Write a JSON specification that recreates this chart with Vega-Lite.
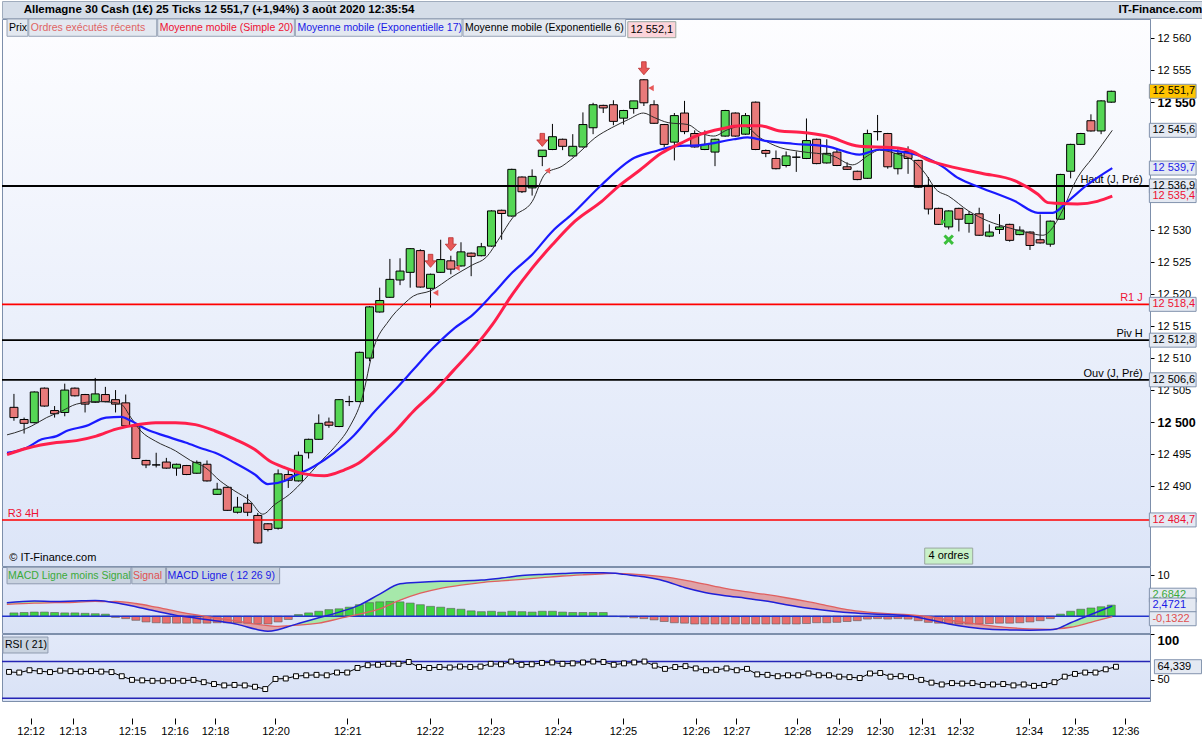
{
"$schema":"https://vega.github.io/schema/vega-lite/v6.json",
"padding":0,
"autosize":{"type":"pad"},
"background":"#ffffff",
"spacing":1,
"bounds":"flush",
"config":{"font":"Liberation Sans","view":{"stroke":"#7d8fab"},"legend":{"disable":true},
"axis":{"labelFont":"Liberation Sans","labelFontSize":11,"labelColor":"#000000","tickColor":"#000000","domainColor":"#7d8fab","grid":false},
"text":{"font":"Liberation Sans","fontSize":11}},
"datasets":{
"hdr":[{"k":"t","t":"Allemagne 30 Cash (1€)  25 Ticks  12 551,7 (+1,94%)  3 août 2020 12:35:54"},{"k":"b","t":"IT-Finance.com"}],
"candles":[
{"i":0,"o":12502.3,"h":12504.4,"l":12500.2,"c":12500.7,"d":"down"},
{"i":1,"o":12500.4,"h":12500.7,"l":12498.2,"c":12499.8,"d":"down"},
{"i":2,"o":12499.9,"h":12504.8,"l":12499.8,"c":12504.7,"d":"up"},
{"i":3,"o":12505.3,"h":12505.4,"l":12502.4,"c":12502.5,"d":"down"},
{"i":4,"o":12501.8,"h":12502.5,"l":12500.7,"c":12501.3,"d":"down"},
{"i":5,"o":12501.5,"h":12506.0,"l":12500.9,"c":12505.0,"d":"up"},
{"i":6,"o":12505.3,"h":12505.4,"l":12504.0,"c":12504.1,"d":"down"},
{"i":7,"o":12504.3,"h":12504.4,"l":12501.5,"c":12502.8,"d":"down"},
{"i":8,"o":12503.1,"h":12506.9,"l":12503.0,"c":12504.4,"d":"up"},
{"i":9,"o":12504.3,"h":12505.5,"l":12503.1,"c":12503.2,"d":"down"},
{"i":10,"o":12503.5,"h":12505.0,"l":12501.5,"c":12502.8,"d":"down"},
{"i":11,"o":12503.0,"h":12504.3,"l":12499.3,"c":12499.4,"d":"down"},
{"i":12,"o":12499.4,"h":12499.5,"l":12494.2,"c":12494.3,"d":"down"},
{"i":13,"o":12494.0,"h":12494.1,"l":12492.8,"c":12493.3,"d":"down"},
{"i":14,"o":12493.3,"h":12495.2,"l":12492.9,"c":12493.3,"d":"up"},
{"i":15,"o":12493.75,"h":12494.4,"l":12492.7,"c":12492.8,"d":"down"},
{"i":16,"o":12492.8,"h":12493.5,"l":12491.6,"c":12493.4,"d":"up"},
{"i":17,"o":12493.2,"h":12493.3,"l":12491.7,"c":12491.8,"d":"down"},
{"i":18,"o":12492.0,"h":12494.0,"l":12491.9,"c":12493.7,"d":"up"},
{"i":19,"o":12493.4,"h":12494.0,"l":12490.7,"c":12490.8,"d":"down"},
{"i":20,"o":12488.7,"h":12490.5,"l":12488.6,"c":12489.5,"d":"up"},
{"i":21,"o":12489.8,"h":12489.9,"l":12486.1,"c":12486.2,"d":"down"},
{"i":22,"o":12485.9,"h":12488.3,"l":12485.7,"c":12486.7,"d":"up"},
{"i":23,"o":12487.3,"h":12488.7,"l":12485.3,"c":12485.9,"d":"down"},
{"i":24,"o":12485.4,"h":12485.8,"l":12481.0,"c":12481.1,"d":"down"},
{"i":25,"o":12484.1,"h":12484.2,"l":12482.9,"c":12483.2,"d":"down"},
{"i":26,"o":12483.4,"h":12492.6,"l":12483.2,"c":12491.9,"d":"up"},
{"i":27,"o":12491.8,"h":12492.8,"l":12489.7,"c":12490.9,"d":"down"},
{"i":28,"o":12490.8,"h":12495.4,"l":12490.7,"c":12494.8,"d":"up"},
{"i":29,"o":12495.2,"h":12497.4,"l":12494.3,"c":12497.3,"d":"up"},
{"i":30,"o":12497.3,"h":12501.2,"l":12497.2,"c":12499.8,"d":"up"},
{"i":31,"o":12500.0,"h":12500.7,"l":12499.1,"c":12499.5,"d":"down"},
{"i":32,"o":12499.3,"h":12503.6,"l":12499.2,"c":12503.5,"d":"up"},
{"i":33,"o":12503.2,"h":12504.1,"l":12502.5,"c":12503.2,"d":"up"},
{"i":34,"o":12503.2,"h":12511.0,"l":12503.1,"c":12510.9,"d":"up"},
{"i":35,"o":12510.0,"h":12518.1,"l":12509.5,"c":12518.0,"d":"up"},
{"i":36,"o":12517.2,"h":12521.0,"l":12517.1,"c":12519.0,"d":"up"},
{"i":37,"o":12519.5,"h":12525.5,"l":12519.4,"c":12522.3,"d":"up"},
{"i":38,"o":12522.2,"h":12525.6,"l":12521.4,"c":12523.6,"d":"up"},
{"i":39,"o":12523.4,"h":12527.2,"l":12521.0,"c":12527.1,"d":"up"},
{"i":40,"o":12526.8,"h":12527.0,"l":12521.0,"c":12521.1,"d":"down"},
{"i":41,"o":12520.9,"h":12523.2,"l":12517.9,"c":12523.1,"d":"up"},
{"i":42,"o":12523.4,"h":12528.5,"l":12523.3,"c":12525.4,"d":"up"},
{"i":43,"o":12525.2,"h":12526.0,"l":12523.1,"c":12523.9,"d":"down"},
{"i":44,"o":12524.4,"h":12528.1,"l":12524.3,"c":12526.6,"d":"up"},
{"i":45,"o":12526.4,"h":12526.5,"l":12522.8,"c":12525.9,"d":"down"},
{"i":46,"o":12526.0,"h":12528.0,"l":12525.9,"c":12527.4,"d":"up"},
{"i":47,"o":12527.5,"h":12533.1,"l":12527.4,"c":12533.0,"d":"up"},
{"i":48,"o":12533.1,"h":12533.2,"l":12528.5,"c":12532.6,"d":"down"},
{"i":49,"o":12532.2,"h":12539.6,"l":12532.1,"c":12539.5,"d":"up"},
{"i":50,"o":12538.3,"h":12538.4,"l":12535.8,"c":12536.0,"d":"down"},
{"i":51,"o":12536.6,"h":12539.5,"l":12535.4,"c":12538.4,"d":"up"},
{"i":52,"o":12541.5,"h":12542.5,"l":12540.0,"c":12542.5,"d":"up"},
{"i":53,"o":12542.6,"h":12546.6,"l":12542.5,"c":12544.6,"d":"up"},
{"i":54,"o":12544.2,"h":12544.3,"l":12542.5,"c":12543.1,"d":"down"},
{"i":55,"o":12541.6,"h":12545.0,"l":12541.5,"c":12543.1,"d":"up"},
{"i":56,"o":12543.0,"h":12548.4,"l":12542.9,"c":12546.5,"d":"up"},
{"i":57,"o":12546.0,"h":12549.9,"l":12545.0,"c":12549.6,"d":"up"},
{"i":58,"o":12549.5,"h":12549.6,"l":12548.3,"c":12549.1,"d":"down"},
{"i":59,"o":12549.6,"h":12550.3,"l":12546.4,"c":12547.0,"d":"down"},
{"i":60,"o":12547.5,"h":12548.8,"l":12546.5,"c":12548.7,"d":"up"},
{"i":61,"o":12549.0,"h":12550.2,"l":12548.2,"c":12550.2,"d":"up"},
{"i":62,"o":12553.5,"h":12553.6,"l":12549.4,"c":12549.9,"d":"down"},
{"i":63,"o":12549.6,"h":12550.3,"l":12546.6,"c":12546.7,"d":"down"},
{"i":64,"o":12546.5,"h":12546.6,"l":12543.0,"c":12543.4,"d":"down"},
{"i":65,"o":12543.75,"h":12548.3,"l":12540.9,"c":12547.9,"d":"up"},
{"i":66,"o":12548.3,"h":12550.2,"l":12545.0,"c":12545.4,"d":"down"},
{"i":67,"o":12545.1,"h":12545.6,"l":12542.9,"c":12543.0,"d":"down"},
{"i":68,"o":12542.6,"h":12545.6,"l":12542.5,"c":12543.4,"d":"up"},
{"i":69,"o":12542.2,"h":12544.3,"l":12540.0,"c":12544.2,"d":"up"},
{"i":70,"o":12544.7,"h":12548.8,"l":12544.6,"c":12548.7,"d":"up"},
{"i":71,"o":12548.3,"h":12548.4,"l":12544.6,"c":12544.7,"d":"down"},
{"i":72,"o":12545.0,"h":12548.3,"l":12544.9,"c":12547.9,"d":"up"},
{"i":73,"o":12550.0,"h":12550.1,"l":12542.5,"c":12542.6,"d":"down"},
{"i":74,"o":12542.45,"h":12542.6,"l":12541.4,"c":12542.0,"d":"down"},
{"i":75,"o":12541.2,"h":12542.45,"l":12539.5,"c":12539.6,"d":"down"},
{"i":76,"o":12540.1,"h":12542.3,"l":12539.8,"c":12541.6,"d":"up"},
{"i":77,"o":12541.4,"h":12542.3,"l":12539.1,"c":12541.4,"d":"up"},
{"i":78,"o":12541.2,"h":12547.45,"l":12541.1,"c":12544.0,"d":"up"},
{"i":79,"o":12544.2,"h":12544.3,"l":12540.3,"c":12540.4,"d":"down"},
{"i":80,"o":12540.5,"h":12544.2,"l":12540.4,"c":12542.0,"d":"up"},
{"i":81,"o":12542.2,"h":12542.65,"l":12540.0,"c":12540.1,"d":"down"},
{"i":82,"o":12539.9,"h":12540.6,"l":12539.4,"c":12539.5,"d":"down"},
{"i":83,"o":12539.2,"h":12539.3,"l":12537.8,"c":12537.9,"d":"down"},
{"i":84,"o":12538.1,"h":12545.7,"l":12538.0,"c":12545.1,"d":"up"},
{"i":85,"o":12545.4,"h":12548.0,"l":12544.0,"c":12545.4,"d":"up"},
{"i":86,"o":12545.1,"h":12545.2,"l":12539.6,"c":12539.9,"d":"down"},
{"i":87,"o":12539.6,"h":12542.65,"l":12538.7,"c":12542.0,"d":"up"},
{"i":88,"o":12542.3,"h":12543.1,"l":12538.8,"c":12541.2,"d":"down"},
{"i":89,"o":12540.9,"h":12541.0,"l":12536.6,"c":12536.7,"d":"down"},
{"i":90,"o":12537.0,"h":12538.3,"l":12532.45,"c":12533.3,"d":"down"},
{"i":91,"o":12533.4,"h":12533.5,"l":12530.8,"c":12530.9,"d":"down"},
{"i":92,"o":12530.5,"h":12533.1,"l":12530.1,"c":12533.0,"d":"up"},
{"i":93,"o":12533.4,"h":12533.5,"l":12529.8,"c":12531.7,"d":"down"},
{"i":94,"o":12531.05,"h":12533.0,"l":12529.6,"c":12532.45,"d":"up"},
{"i":95,"o":12532.55,"h":12533.5,"l":12529.1,"c":12529.2,"d":"down"},
{"i":96,"o":12529.06,"h":12530.9,"l":12528.9,"c":12529.7,"d":"up"},
{"i":97,"o":12530.1,"h":12532.5,"l":12529.4,"c":12530.5,"d":"up"},
{"i":98,"o":12530.9,"h":12531.0,"l":12528.2,"c":12528.4,"d":"down"},
{"i":99,"o":12529.3,"h":12530.6,"l":12529.2,"c":12530.0,"d":"up"},
{"i":100,"o":12529.7,"h":12529.8,"l":12526.9,"c":12527.6,"d":"down"},
{"i":101,"o":12528.5,"h":12532.45,"l":12527.9,"c":12528.0,"d":"down"},
{"i":102,"o":12527.8,"h":12531.5,"l":12527.4,"c":12531.4,"d":"up"},
{"i":103,"o":12531.7,"h":12538.8,"l":12531.6,"c":12538.7,"d":"up"},
{"i":104,"o":12539.2,"h":12543.5,"l":12538.1,"c":12543.4,"d":"up"},
{"i":105,"o":12543.4,"h":12545.2,"l":12543.3,"c":12545.1,"d":"up"},
{"i":106,"o":12547.1,"h":12548.1,"l":12545.4,"c":12545.5,"d":"down"},
{"i":107,"o":12545.5,"h":12550.3,"l":12545.0,"c":12550.2,"d":"up"},
{"i":108,"o":12550.0,"h":12551.8,"l":12549.9,"c":12551.7,"d":"up"}
],
"ma":[
{"s":"s20","i":-0.68,"p":12494.9},{"s":"s20","i":1.27,"p":12495.9},{"s":"s20","i":4.2,"p":12496.8},{"s":"s20","i":6.15,"p":12497.1},{"s":"s20","i":8.1,"p":12497.8},{"s":"s20","i":10.05,"p":12498.9},{"s":"s20","i":11.51,"p":12499.4},{"s":"s20","i":13.95,"p":12499.9},{"s":"s20","i":15.9,"p":12499.9},{"s":"s20","i":17.85,"p":12499.6},{"s":"s20","i":19.8,"p":12498.6},{"s":"s20","i":21.76,"p":12497.3},{"s":"s20","i":23.71,"p":12495.7},{"s":"s20","i":25.17,"p":12493.9},{"s":"s20","i":26.63,"p":12492.9},{"s":"s20","i":28.59,"p":12491.9},{"s":"s20","i":30.54,"p":12491.6},{"s":"s20","i":32.49,"p":12492.5},{"s":"s20","i":33.95,"p":12493.6},{"s":"s20","i":35.41,"p":12495.5},{"s":"s20","i":37.37,"p":12498.3},{"s":"s20","i":39.32,"p":12501.7},{"s":"s20","i":41.27,"p":12504.6},{"s":"s20","i":43.22,"p":12508.0},{"s":"s20","i":45.17,"p":12511.4},{"s":"s20","i":47.12,"p":12515.3},{"s":"s20","i":49.07,"p":12520.0},{"s":"s20","i":51.02,"p":12524.1},{"s":"s20","i":52.98,"p":12527.7},{"s":"s20","i":55.22,"p":12531.4},{"s":"s20","i":57.85,"p":12534.5},{"s":"s20","i":59.61,"p":12537.0},{"s":"s20","i":61.46,"p":12539.2},{"s":"s20","i":63.71,"p":12542.0},{"s":"s20","i":65.66,"p":12543.6},{"s":"s20","i":67.61,"p":12545.0},{"s":"s20","i":69.56,"p":12545.8},{"s":"s20","i":71.51,"p":12546.3},{"s":"s20","i":73.46,"p":12546.3},{"s":"s20","i":75.41,"p":12545.5},{"s":"s20","i":77.37,"p":12545.3},{"s":"s20","i":80.0,"p":12544.7},{"s":"s20","i":83.22,"p":12543.1},{"s":"s20","i":86.44,"p":12542.9},{"s":"s20","i":88.39,"p":12542.3},{"s":"s20","i":89.76,"p":12541.1},{"s":"s20","i":92.0,"p":12540.0},{"s":"s20","i":95.22,"p":12538.9},{"s":"s20","i":98.54,"p":12537.7},{"s":"s20","i":100.78,"p":12535.6},{"s":"s20","i":101.76,"p":12534.3},{"s":"s20","i":102.73,"p":12534.2},{"s":"s20","i":104.68,"p":12534.1},{"s":"s20","i":106.63,"p":12534.5},{"s":"s20","i":108.1,"p":12535.3},
{"s":"e17","i":-0.68,"p":12495.2},{"s":"e17","i":1.27,"p":12496.0},{"s":"e17","i":2.73,"p":12497.3},{"s":"e17","i":4.2,"p":12497.8},{"s":"e17","i":5.17,"p":12498.6},{"s":"e17","i":7.12,"p":12499.4},{"s":"e17","i":9.07,"p":12500.7},{"s":"e17","i":10.54,"p":12500.8},{"s":"e17","i":11.51,"p":12500.2},{"s":"e17","i":12.98,"p":12498.9},{"s":"e17","i":14.93,"p":12497.8},{"s":"e17","i":16.88,"p":12496.8},{"s":"e17","i":18.83,"p":12495.7},{"s":"e17","i":19.8,"p":12495.2},{"s":"e17","i":21.76,"p":12493.6},{"s":"e17","i":23.71,"p":12491.8},{"s":"e17","i":24.98,"p":12490.3},{"s":"e17","i":26.63,"p":12490.8},{"s":"e17","i":27.61,"p":12491.6},{"s":"e17","i":29.56,"p":12493.1},{"s":"e17","i":31.51,"p":12495.2},{"s":"e17","i":33.46,"p":12497.9},{"s":"e17","i":35.41,"p":12501.5},{"s":"e17","i":37.37,"p":12504.8},{"s":"e17","i":39.32,"p":12508.2},{"s":"e17","i":41.27,"p":12511.6},{"s":"e17","i":43.22,"p":12514.5},{"s":"e17","i":45.17,"p":12516.8},{"s":"e17","i":47.12,"p":12520.0},{"s":"e17","i":49.07,"p":12523.4},{"s":"e17","i":51.02,"p":12526.2},{"s":"e17","i":52.98,"p":12529.8},{"s":"e17","i":54.93,"p":12532.5},{"s":"e17","i":57.85,"p":12537.1},{"s":"e17","i":61.07,"p":12541.3},{"s":"e17","i":63.02,"p":12542.3},{"s":"e17","i":64.98,"p":12543.1},{"s":"e17","i":67.61,"p":12543.3},{"s":"e17","i":70.83,"p":12544.2},{"s":"e17","i":72.2,"p":12544.5},{"s":"e17","i":74.15,"p":12543.9},{"s":"e17","i":76.68,"p":12543.5},{"s":"e17","i":80.0,"p":12543.1},{"s":"e17","i":83.22,"p":12541.8},{"s":"e17","i":85.17,"p":12542.6},{"s":"e17","i":87.12,"p":12542.3},{"s":"e17","i":89.76,"p":12541.3},{"s":"e17","i":91.32,"p":12540.0},{"s":"e17","i":92.98,"p":12538.1},{"s":"e17","i":95.22,"p":12536.6},{"s":"e17","i":98.54,"p":12534.5},{"s":"e17","i":100.78,"p":12532.7},{"s":"e17","i":102.24,"p":12532.7},{"s":"e17","i":103.71,"p":12534.5},{"s":"e17","i":105.66,"p":12537.1},{"s":"e17","i":108.1,"p":12539.7},
{"s":"e6","i":-0.68,"p":12498.0},{"s":"e6","i":0.78,"p":12498.7},{"s":"e6","i":1.76,"p":12499.4},{"s":"e6","i":3.22,"p":12500.7},{"s":"e6","i":4.68,"p":12501.7},{"s":"e6","i":6.15,"p":12502.8},{"s":"e6","i":8.1,"p":12503.2},{"s":"e6","i":9.56,"p":12503.1},{"s":"e6","i":10.54,"p":12502.8},{"s":"e6","i":11.51,"p":12500.7},{"s":"e6","i":12.49,"p":12498.6},{"s":"e6","i":13.95,"p":12497.0},{"s":"e6","i":15.9,"p":12495.5},{"s":"e6","i":17.37,"p":12494.0},{"s":"e6","i":18.83,"p":12492.9},{"s":"e6","i":20.29,"p":12490.8},{"s":"e6","i":21.76,"p":12489.2},{"s":"e6","i":23.22,"p":12487.7},{"s":"e6","i":24.49,"p":12485.6},{"s":"e6","i":25.66,"p":12487.1},{"s":"e6","i":27.12,"p":12488.7},{"s":"e6","i":28.59,"p":12491.0},{"s":"e6","i":30.05,"p":12493.6},{"s":"e6","i":31.51,"p":12496.0},{"s":"e6","i":32.98,"p":12499.1},{"s":"e6","i":34.24,"p":12503.6},{"s":"e6","i":35.41,"p":12511.6},{"s":"e6","i":36.88,"p":12515.8},{"s":"e6","i":38.34,"p":12518.4},{"s":"e6","i":39.32,"p":12519.7},{"s":"e6","i":40.98,"p":12520.5},{"s":"e6","i":43.22,"p":12522.8},{"s":"e6","i":45.17,"p":12524.6},{"s":"e6","i":46.44,"p":12525.7},{"s":"e6","i":47.8,"p":12528.8},{"s":"e6","i":49.07,"p":12531.9},{"s":"e6","i":51.02,"p":12534.5},{"s":"e6","i":52.29,"p":12538.8},{"s":"e6","i":53.95,"p":12540.0},{"s":"e6","i":55.61,"p":12542.1},{"s":"e6","i":57.17,"p":12544.4},{"s":"e6","i":58.83,"p":12546.0},{"s":"e6","i":60.49,"p":12547.3},{"s":"e6","i":61.95,"p":12548.3},{"s":"e6","i":63.02,"p":12547.6},{"s":"e6","i":64.39,"p":12546.8},{"s":"e6","i":66.34,"p":12546.5},{"s":"e6","i":67.61,"p":12545.2},{"s":"e6","i":68.88,"p":12544.7},{"s":"e6","i":70.24,"p":12545.7},{"s":"e6","i":71.8,"p":12546.3},{"s":"e6","i":73.46,"p":12544.4},{"s":"e6","i":75.41,"p":12542.9},{"s":"e6","i":77.37,"p":12542.3},{"s":"e6","i":80.59,"p":12541.6},{"s":"e6","i":82.54,"p":12540.2},{"s":"e6","i":84.2,"p":12541.8},{"s":"e6","i":85.17,"p":12542.5},{"s":"e6","i":87.12,"p":12541.8},{"s":"e6","i":88.39,"p":12541.0},{"s":"e6","i":89.76,"p":12538.7},{"s":"e6","i":90.73,"p":12536.4},{"s":"e6","i":92.0,"p":12535.3},{"s":"e6","i":93.95,"p":12533.0},{"s":"e6","i":95.9,"p":12531.4},{"s":"e6","i":97.85,"p":12530.4},{"s":"e6","i":99.8,"p":12529.6},{"s":"e6","i":101.27,"p":12529.2},{"s":"e6","i":102.24,"p":12530.4},{"s":"e6","i":103.02,"p":12532.5},{"s":"e6","i":104.68,"p":12538.2},{"s":"e6","i":106.15,"p":12541.3},{"s":"e6","i":108.1,"p":12545.6}
],
"levels":[{"p":12536.9,"k":"haut","c":"blk","t":"Haut (J, Pré)"},{"p":12518.4,"k":"r1","c":"red","t":"R1 J"},{"p":12512.8,"k":"piv","c":"blk","t":"Piv H"},{"p":12506.6,"k":"ouv","c":"blk","t":"Ouv (J, Pré)"},{"p":12484.7,"k":"r3","c":"red","t":"R3 4H"}],
"markers":[{"i":41,"p":12525.2,"k":"arrow"},{"i":43,"p":12527.8,"k":"arrow"},{"i":52,"p":12544.1,"k":"arrow"},{"i":62,"p":12555.3,"k":"arrow"},{"i":41.5,"p":12520.2,"k":"tri"},{"i":43.6,"p":12524.1,"k":"tri"},{"i":52.5,"p":12539.3,"k":"tri"},{"i":62.7,"p":12552.2,"k":"tri"},{"i":91.5,"p":12531.3,"k":"gtri"},{"i":92,"p":12528.5,"k":"gx"}],
"orders":[{"i":92.0,"p":12479.05,"lab":"4 ordres","bx":"gbox"},{"i":62.78,"p":12561.33,"lab":"12 552,1","bx":"pink"}],
"lgd":[{"t":"Prix","i0":-0.68,"i1":1.37,"tc":"blk"},{"t":"Ordres exécutés récents","i0":1.46,"i1":14.05,"tc":"lred"},{"t":"Moyenne mobile (Simple 20)","i0":14.15,"i1":27.6,"tc":"red"},{"t":"Moyenne mobile (Exponentielle 17)","i0":27.7,"i1":44.1,"tc":"blue"},{"t":"Moyenne mobile (Exponentielle 6)","i0":44.2,"i1":60.2,"tc":"blk"}],
"tags":[{"p":12551.7,"lab":"12 551,7","tc":"blk","bx":"last"},{"p":12545.6,"lab":"12 545,6","tc":"blk","bx":"box"},{"p":12539.7,"lab":"12 539,7","tc":"blue","bx":"box"},{"p":12536.9,"lab":"12 536,9","tc":"blk","bx":"box"},{"p":12535.4,"lab":"12 535,4","tc":"red","bx":"box"},{"p":12518.4,"lab":"12 518,4","tc":"red","bx":"box"},{"p":12512.8,"lab":"12 512,8","tc":"blk","bx":"box"},{"p":12506.6,"lab":"12 506,6","tc":"blk","bx":"box"},{"p":12484.7,"lab":"12 484,7","tc":"red","bx":"box"}],
"macd":[
{"i":-0.7,"m":3.3,"s":2.9,"d":"aup","g":"a"},{"i":2,"m":3.7,"s":3.2,"d":"aup","g":"a"},{"i":4,"m":3.6,"s":3.3,"d":"aup","g":"a"},{"i":6,"m":3.7,"s":3.4,"d":"aup","g":"a"},{"i":8,"m":3.8,"s":3.6,"d":"aup","g":"a"},{"i":9.3,"m":3.55,"s":3.55,"d":"aup","g":"a"},
{"i":9.3,"m":3.55,"s":3.55,"d":"adn","g":"b"},{"i":10,"m":3.3,"s":3.6,"d":"adn","g":"b"},{"i":12,"m":2.3,"s":3.1,"d":"adn","g":"b"},{"i":14,"m":1.2,"s":2.2,"d":"adn","g":"b"},{"i":16,"m":0.2,"s":1.2,"d":"adn","g":"b"},{"i":18,"m":-0.5,"s":0.3,"d":"adn","g":"b"},{"i":20,"m":-1.2,"s":-0.5,"d":"adn","g":"b"},{"i":22,"m":-2.0,"s":-1.2,"d":"adn","g":"b"},{"i":24,"m":-3.3,"s":-2.0,"d":"adn","g":"b"},{"i":25,"m":-3.7,"s":-2.3,"d":"adn","g":"b"},{"i":26,"m":-3.3,"s":-2.5,"d":"adn","g":"b"},{"i":27.3,"m":-2.3,"s":-2.3,"d":"adn","g":"b"},
{"i":27.3,"m":-2.3,"s":-2.3,"d":"aup","g":"c"},{"i":28,"m":-1.8,"s":-2.2,"d":"aup","g":"c"},{"i":30,"m":-0.4,"s":-1.7,"d":"aup","g":"c"},{"i":32,"m":1.0,"s":-0.6,"d":"aup","g":"c"},{"i":34,"m":2.7,"s":0.5,"d":"aup","g":"c"},{"i":36,"m":5.4,"s":1.8,"d":"aup","g":"c"},{"i":38,"m":7.9,"s":3.9,"d":"aup","g":"c"},{"i":40,"m":8.3,"s":5.6,"d":"aup","g":"c"},{"i":42,"m":8.5,"s":6.8,"d":"aup","g":"c"},{"i":44,"m":8.6,"s":7.6,"d":"aup","g":"c"},{"i":46,"m":8.8,"s":8.2,"d":"aup","g":"c"},{"i":48,"m":9.3,"s":8.6,"d":"aup","g":"c"},{"i":50,"m":9.9,"s":9.0,"d":"aup","g":"c"},{"i":52,"m":10.2,"s":9.4,"d":"aup","g":"c"},{"i":54,"m":10.4,"s":9.8,"d":"aup","g":"c"},{"i":56,"m":10.6,"s":10.1,"d":"aup","g":"c"},{"i":58,"m":10.6,"s":10.35,"d":"aup","g":"c"},{"i":59.2,"m":10.45,"s":10.45,"d":"aup","g":"c"},
{"i":59.2,"m":10.45,"s":10.45,"d":"adn","g":"d"},{"i":60,"m":10.2,"s":10.4,"d":"adn","g":"d"},{"i":62,"m":9.6,"s":10.1,"d":"adn","g":"d"},{"i":64,"m":8.6,"s":9.6,"d":"adn","g":"d"},{"i":66,"m":7.0,"s":8.8,"d":"adn","g":"d"},{"i":68,"m":5.8,"s":7.8,"d":"adn","g":"d"},{"i":70,"m":5.0,"s":6.8,"d":"adn","g":"d"},{"i":72,"m":4.4,"s":6.0,"d":"adn","g":"d"},{"i":74,"m":3.7,"s":5.3,"d":"adn","g":"d"},{"i":76,"m":2.8,"s":4.5,"d":"adn","g":"d"},{"i":78,"m":2.0,"s":3.6,"d":"adn","g":"d"},{"i":80,"m":1.4,"s":2.6,"d":"adn","g":"d"},{"i":82,"m":0.9,"s":1.6,"d":"adn","g":"d"},{"i":84,"m":0.6,"s":1.0,"d":"adn","g":"d"},{"i":86,"m":0.4,"s":0.6,"d":"adn","g":"d"},{"i":88,"m":0.1,"s":0.35,"d":"adn","g":"d"},{"i":90,"m":-0.8,"s":-0.1,"d":"adn","g":"d"},{"i":92,"m":-1.9,"s":-0.9,"d":"adn","g":"d"},{"i":94,"m":-2.7,"s":-1.7,"d":"adn","g":"d"},{"i":96,"m":-3.2,"s":-2.3,"d":"adn","g":"d"},{"i":98,"m":-3.35,"s":-2.8,"d":"adn","g":"d"},{"i":100,"m":-3.4,"s":-3.1,"d":"adn","g":"d"},{"i":102,"m":-3.3,"s":-3.2,"d":"adn","g":"d"},{"i":102.6,"m":-3.1,"s":-3.1,"d":"adn","g":"d"},
{"i":102.6,"m":-3.1,"s":-3.1,"d":"aup","g":"e"},{"i":104,"m":-1.6,"s":-2.7,"d":"aup","g":"e"},{"i":106,"m":0.4,"s":-1.5,"d":"aup","g":"e"},{"i":108.1,"m":2.47,"s":-0.13,"d":"aup","g":"e"}
],
"hist":[
{"i":0,"h":0.8,"d":"up"},{"i":1,"h":0.9,"d":"up"},{"i":2,"h":1.0,"d":"up"},{"i":3,"h":1.0,"d":"up"},{"i":4,"h":0.9,"d":"up"},{"i":5,"h":0.8,"d":"up"},{"i":6,"h":0.8,"d":"up"},{"i":7,"h":0.7,"d":"up"},{"i":8,"h":0.6,"d":"up"},{"i":9,"h":0.5,"d":"up"},
{"i":10,"h":-0.3,"d":"down"},{"i":11,"h":-0.6,"d":"down"},{"i":12,"h":-1.0,"d":"down"},{"i":13,"h":-1.4,"d":"down"},{"i":14,"h":-1.6,"d":"down"},{"i":15,"h":-1.7,"d":"down"},{"i":16,"h":-1.7,"d":"down"},{"i":17,"h":-1.7,"d":"down"},{"i":18,"h":-1.7,"d":"down"},{"i":19,"h":-1.7,"d":"down"},{"i":20,"h":-1.6,"d":"down"},{"i":21,"h":-1.6,"d":"down"},{"i":22,"h":-1.6,"d":"down"},{"i":23,"h":-1.7,"d":"down"},{"i":24,"h":-1.8,"d":"down"},{"i":25,"h":-1.9,"d":"down"},{"i":26,"h":-1.4,"d":"down"},{"i":27,"h":-0.8,"d":"down"},
{"i":28,"h":0.4,"d":"up"},{"i":29,"h":0.8,"d":"up"},{"i":30,"h":1.2,"d":"up"},{"i":31,"h":1.6,"d":"up"},{"i":32,"h":1.8,"d":"up"},{"i":33,"h":2.2,"d":"up"},{"i":34,"h":2.8,"d":"up"},{"i":35,"h":3.3,"d":"up"},{"i":36,"h":3.5,"d":"up"},{"i":37,"h":3.6,"d":"up"},{"i":38,"h":3.5,"d":"up"},{"i":39,"h":3.2,"d":"up"},{"i":40,"h":2.8,"d":"up"},{"i":41,"h":2.4,"d":"up"},{"i":42,"h":2.2,"d":"up"},{"i":43,"h":1.9,"d":"up"},{"i":44,"h":1.7,"d":"up"},{"i":45,"h":1.3,"d":"up"},{"i":46,"h":1.1,"d":"up"},{"i":47,"h":1.2,"d":"up"},{"i":48,"h":1.0,"d":"up"},{"i":49,"h":1.2,"d":"up"},{"i":50,"h":1.1,"d":"up"},{"i":51,"h":1.0,"d":"up"},{"i":52,"h":1.2,"d":"up"},{"i":53,"h":1.2,"d":"up"},{"i":54,"h":1.0,"d":"up"},{"i":55,"h":0.9,"d":"up"},{"i":56,"h":0.9,"d":"up"},{"i":57,"h":0.9,"d":"up"},{"i":58,"h":0.9,"d":"up"},
{"i":59,"h":-0.1,"d":"down"},{"i":60,"h":-0.2,"d":"down"},{"i":61,"h":-0.4,"d":"down"},{"i":62,"h":-0.6,"d":"down"},{"i":63,"h":-0.9,"d":"down"},{"i":64,"h":-1.3,"d":"down"},{"i":65,"h":-1.6,"d":"down"},{"i":66,"h":-1.7,"d":"down"},{"i":67,"h":-1.9,"d":"down"},{"i":68,"h":-1.9,"d":"down"},{"i":69,"h":-1.9,"d":"down"},{"i":70,"h":-1.9,"d":"down"},{"i":71,"h":-1.9,"d":"down"},{"i":72,"h":-1.9,"d":"down"},{"i":73,"h":-1.9,"d":"down"},{"i":74,"h":-1.9,"d":"down"},{"i":75,"h":-1.9,"d":"down"},{"i":76,"h":-1.9,"d":"down"},{"i":77,"h":-1.9,"d":"down"},{"i":78,"h":-1.8,"d":"down"},{"i":79,"h":-1.6,"d":"down"},{"i":80,"h":-1.6,"d":"down"},{"i":81,"h":-1.5,"d":"down"},{"i":82,"h":-1.3,"d":"down"},{"i":83,"h":-1.1,"d":"down"},{"i":84,"h":-0.7,"d":"down"},{"i":85,"h":-0.6,"d":"down"},{"i":86,"h":-0.7,"d":"down"},{"i":87,"h":-0.6,"d":"down"},{"i":88,"h":-0.7,"d":"down"},{"i":89,"h":-1.1,"d":"down"},{"i":90,"h":-1.5,"d":"down"},{"i":91,"h":-1.7,"d":"down"},{"i":92,"h":-1.8,"d":"down"},{"i":93,"h":-1.9,"d":"down"},{"i":94,"h":-1.9,"d":"down"},{"i":95,"h":-1.9,"d":"down"},{"i":96,"h":-1.8,"d":"down"},{"i":97,"h":-1.7,"d":"down"},{"i":98,"h":-1.7,"d":"down"},{"i":99,"h":-1.6,"d":"down"},{"i":100,"h":-1.4,"d":"down"},{"i":101,"h":-1.1,"d":"down"},{"i":102,"h":-0.6,"d":"down"},
{"i":103,"h":0.5,"d":"up"},{"i":104,"h":1.2,"d":"up"},{"i":105,"h":1.7,"d":"up"},{"i":106,"h":2.0,"d":"up"},{"i":107,"h":2.3,"d":"up"},{"i":108,"h":2.7,"d":"up"}
],
"mtags":[{"v":2.6842,"lab":"2,6842","tc":"mg"},{"v":2.4721,"lab":"2,4721","tc":"mb"},{"v":-0.1322,"lab":"-0,1322","tc":"mr"}],
"mlgd":[{"t":"MACD Ligne moins Signal","i0":-0.68,"i1":11.51,"tc":"mg"},{"t":"Signal","i0":11.61,"i1":14.93,"tc":"mr"},{"t":"MACD Ligne ( 12 26 9)","i0":15.02,"i1":26.15,"tc":"mb"}],
"rsi":[
{"i":0,"r":58.7},{"i":1,"r":58.0},{"i":2,"r":60.5},{"i":3,"r":59.5},{"i":4,"r":58.5},{"i":5,"r":60.0},{"i":6,"r":59.5},{"i":7,"r":59.0},{"i":8,"r":59.5},{"i":9,"r":59.0},{"i":10,"r":58.5},{"i":11,"r":54.0},{"i":12,"r":50.0},{"i":13,"r":49.5},{"i":14,"r":49.0},{"i":15,"r":49.0},{"i":16,"r":49.0},{"i":17,"r":49.0},{"i":18,"r":50.0},{"i":19,"r":47.5},{"i":20,"r":45.5},{"i":21,"r":44.0},{"i":22,"r":44.5},{"i":23,"r":44.0},{"i":24,"r":42.5},{"i":25,"r":40.0},{"i":26,"r":51.0},{"i":27,"r":51.5},{"i":28,"r":54.0},{"i":29,"r":55.0},{"i":30,"r":55.5},{"i":31,"r":55.0},{"i":32,"r":58.0},{"i":33,"r":58.0},{"i":34,"r":63.0},{"i":35,"r":66.0},{"i":36,"r":66.5},{"i":37,"r":67.5},{"i":38,"r":67.5},{"i":39,"r":69.5},{"i":40,"r":64.0},{"i":41,"r":63.0},{"i":42,"r":64.0},{"i":43,"r":63.5},{"i":44,"r":64.5},{"i":45,"r":64.0},{"i":46,"r":64.5},{"i":47,"r":67.5},{"i":48,"r":67.0},{"i":49,"r":70.0},{"i":50,"r":66.5},{"i":51,"r":67.0},{"i":52,"r":68.5},{"i":53,"r":69.0},{"i":54,"r":67.5},{"i":55,"r":68.0},{"i":56,"r":69.0},{"i":57,"r":70.0},{"i":58,"r":69.5},{"i":59,"r":66.5},{"i":60,"r":68.0},{"i":61,"r":69.0},{"i":62,"r":70.0},{"i":63,"r":65.5},{"i":64,"r":62.0},{"i":65,"r":64.0},{"i":66,"r":65.0},{"i":67,"r":62.5},{"i":68,"r":60.5},{"i":69,"r":61.0},{"i":70,"r":62.5},{"i":71,"r":60.5},{"i":72,"r":62.0},{"i":73,"r":56.0},{"i":74,"r":55.5},{"i":75,"r":54.0},{"i":76,"r":55.0},{"i":77,"r":55.0},{"i":78,"r":57.0},{"i":79,"r":55.0},{"i":80,"r":55.0},{"i":81,"r":53.5},{"i":82,"r":53.0},{"i":83,"r":52.0},{"i":84,"r":57.0},{"i":85,"r":57.5},{"i":86,"r":53.5},{"i":87,"r":54.0},{"i":88,"r":53.0},{"i":89,"r":50.0},{"i":90,"r":47.0},{"i":91,"r":45.0},{"i":92,"r":46.5},{"i":93,"r":46.0},{"i":94,"r":46.5},{"i":95,"r":44.5},{"i":96,"r":45.0},{"i":97,"r":45.5},{"i":98,"r":44.0},{"i":99,"r":45.0},{"i":100,"r":43.5},{"i":101,"r":44.5},{"i":102,"r":47.5},{"i":103,"r":53.5},{"i":104,"r":56.5},{"i":105,"r":58.0},{"i":106,"r":58.0},{"i":107,"r":61.5},{"i":108,"r":64.3}
],
"rsilv":[{"v":70},{"v":30}],
"rtag":[{"v":64.339,"lab":"64,339"}],
"rlgd":[{"t":"RSI ( 21)","i0":-0.59,"i1":3.8}],
"zero":[{"z":0}]
},
"vconcat":[
{"width":1202,"height":17,"view":{"fill":"#d5dde8","stroke":"#a0acbd"},"data":{"name":"hdr"},
"layer":[
{"transform":[{"filter":"datum.k == 't'"}],"mark":{"type":"text","align":"left","baseline":"middle","fontSize":11.5,"fontWeight":"bold","fill":"#000000"},
"encoding":{"x":{"datum":0.018,"type":"quantitative","scale":{"domain":[0,1],"nice":false},"axis":null},"y":{"datum":0.5,"type":"quantitative","scale":{"domain":[0,1],"nice":false},"axis":null},"text":{"field":"t"}}},
{"transform":[{"filter":"datum.k == 'b'"}],"mark":{"type":"text","align":"right","baseline":"middle","fontSize":11.5,"fontWeight":"bold","fill":"#000000"},
"encoding":{"x":{"datum":0.9985,"type":"quantitative","scale":{"domain":[0,1],"nice":false},"axis":null},"y":{"datum":0.5,"type":"quantitative","scale":{"domain":[0,1],"nice":false},"axis":null},"text":{"field":"t"}}}
]},
{"width":1148,"height":547,
"view":{"fill":{"gradient":"linear","x1":0,"y1":0,"x2":0,"y2":1,"stops":[{"offset":0,"color":"#fdfdff"},{"offset":1,"color":"#dce5f8"}]},"stroke":"#7d8fab"},
"layer":[
{"data":{"name":"candles"},"mark":{"type":"rule","color":"#000000","strokeWidth":1},
"encoding":{"x":{"field":"i","type":"quantitative","scale":{"domain":[-0.683,111.32],"nice":false,"zero":false},"axis":null},
"y":{"field":"l","type":"quantitative","scale":{"domain":[12477.5,12563],"nice":false,"zero":false},
"axis":{"orient":"right","title":null,"values":[12490,12495,12500,12505,12510,12515,12520,12525,12530,12550,12555,12560],
"labelExpr":"replace(format(datum.value, ',d'), ',', ' ')","tickSize":4,"labelPadding":3,"labelOverlap":false,
"labelFontSize":{"condition":{"test":"datum.value % 50 === 0","value":12.5},"value":11},
"labelFontWeight":{"condition":{"test":"datum.value % 50 === 0","value":"bold"},"value":"normal"}}},
"y2":{"field":"h"}}},
{"data":{"name":"candles"},"mark":{"type":"bar","width":8,"stroke":"#000000","strokeWidth":1},
"encoding":{"x":{"field":"i","type":"quantitative"},"y":{"field":"o","type":"quantitative"},"y2":{"field":"c"},
"fill":{"field":"d","type":"nominal","scale":{"domain":["up","down","blk","red","blue","lred","arrow","tri","gtri","gx","last","box","pink","gbox"],"range":["#55d655","#e87a7a","#000000","#ee1133","#1a1ae6","#e06464","#e85858","#e85858","#3cbf3c","#3cbf3c","#ffc400","#e4e9f2","#fcd4da","#c8f0c8"]}}}},
{"data":{"name":"levels"},"mark":{"type":"rule"},
"encoding":{"y":{"field":"p","type":"quantitative"},
"stroke":{"field":"c","type":"nominal","scale":{"domain":["blk","red"],"range":["#000000","#ff0000"]}},
"strokeWidth":{"field":"k","type":"ordinal","scale":{"domain":["haut","r1","piv","ouv","r3"],"range":[2,1.6,3,2,2]}}}},
{"data":{"name":"levels"},"transform":[{"filter":"datum.k != 'r3'"}],"mark":{"type":"text","align":"right","baseline":"bottom","dy":-1,"fontSize":11},
"encoding":{"x":{"datum":111.1,"type":"quantitative"},"y":{"field":"p","type":"quantitative"},"text":{"field":"t"},"fill":{"field":"c","type":"nominal"}}},
{"data":{"name":"levels"},"transform":[{"filter":"datum.k == 'r3'"}],"mark":{"type":"text","align":"left","baseline":"bottom","dy":-1,"fontSize":11},
"encoding":{"x":{"datum":-0.6,"type":"quantitative"},"y":{"field":"p","type":"quantitative"},"text":{"field":"t"},"fill":{"field":"c","type":"nominal"}}},
{"data":{"name":"ma"},"transform":[{"filter":"datum.s == 'e6'"}],"mark":{"type":"line","interpolate":"monotone","color":"#2d2d2d","strokeWidth":1},
"encoding":{"x":{"field":"i","type":"quantitative"},"y":{"field":"p","type":"quantitative"},"order":{"field":"i","type":"quantitative"}}},
{"data":{"name":"ma"},"transform":[{"filter":"datum.s == 'e17'"}],"mark":{"type":"line","interpolate":"monotone","color":"#1a1aff","strokeWidth":2.2},
"encoding":{"x":{"field":"i","type":"quantitative"},"y":{"field":"p","type":"quantitative"},"order":{"field":"i","type":"quantitative"}}},
{"data":{"name":"ma"},"transform":[{"filter":"datum.s == 's20'"}],"mark":{"type":"line","interpolate":"monotone","color":"#ff1f4b","strokeWidth":3},
"encoding":{"x":{"field":"i","type":"quantitative"},"y":{"field":"p","type":"quantitative"},"order":{"field":"i","type":"quantitative"}}},
{"data":{"name":"markers"},"transform":[{"filter":"datum.k == 'arrow'"}],"mark":{"type":"point","filled":true,"shape":"M-0.35,-1L0.35,-1L0.35,0L0.85,0L0,1L-0.85,0L-0.35,0Z","size":170,"strokeWidth":0.8,"stroke":"#b83030","opacity":1},
"encoding":{"x":{"field":"i","type":"quantitative"},"y":{"field":"p","type":"quantitative"},"fill":{"field":"k","type":"nominal"}}},
{"data":{"name":"markers"},"transform":[{"filter":"datum.k == 'tri' || datum.k == 'gtri'"}],"mark":{"type":"point","filled":true,"size":40,"opacity":1},
"encoding":{"x":{"field":"i","type":"quantitative"},"y":{"field":"p","type":"quantitative"},"fill":{"field":"k","type":"nominal"},
"shape":{"field":"k","type":"nominal","scale":{"domain":["tri","gtri"],"range":["triangle-left","triangle-right"]}}}},
{"data":{"name":"markers"},"transform":[{"filter":"datum.k == 'gx'"}],"mark":{"type":"point","filled":true,"size":110,"opacity":1,"shape":"M-1,-0.6L-0.6,-1L0,-0.4L0.6,-1L1,-0.6L0.4,0L1,0.6L0.6,1L0,0.4L-0.6,1L-1,0.6L-0.4,0Z"},
"encoding":{"x":{"field":"i","type":"quantitative"},"y":{"field":"p","type":"quantitative"},"fill":{"field":"k","type":"nominal"}}},
{"data":{"name":"orders"},"mark":{"type":"rect","xOffset":-24,"x2Offset":24,"yOffset":-8,"y2Offset":8,"stroke":"#9aa7a0","strokeWidth":1},
"encoding":{"x":{"field":"i","type":"quantitative"},"x2":{"field":"i"},"y":{"field":"p","type":"quantitative"},"y2":{"field":"p"},"fill":{"field":"bx","type":"nominal"}}},
{"data":{"name":"orders"},"mark":{"type":"text","align":"center","baseline":"middle","fontSize":11,"fill":"#000000"},
"encoding":{"x":{"field":"i","type":"quantitative"},"y":{"field":"p","type":"quantitative"},"text":{"field":"lab"}}},
{"data":{"name":"lgd"},"mark":{"type":"rect","fill":"#e3e8f0","stroke":"#97a3b6","strokeWidth":1},
"encoding":{"x":{"field":"i0","type":"quantitative"},"x2":{"field":"i1"},"y":{"datum":12563,"type":"quantitative"},"y2":{"datum":12560.3}}},
{"data":{"name":"lgd"},"mark":{"type":"text","align":"left","baseline":"middle","dx":2,"fontSize":10.5},
"encoding":{"x":{"field":"i0","type":"quantitative"},"y":{"datum":12561.65,"type":"quantitative"},"text":{"field":"t"},"fill":{"field":"tc","type":"nominal"}}},
{"data":{"values":[{"t":"© IT-Finance.com"}]},"mark":{"type":"text","align":"left","baseline":"middle","fontSize":11,"fill":"#000000"},
"encoding":{"x":{"datum":-0.45,"type":"quantitative"},"y":{"datum":12478.75,"type":"quantitative"},"text":{"field":"t"}}},
{"data":{"name":"tags"},"mark":{"type":"rect","yOffset":-7,"y2Offset":7,"stroke":"#8293ad","strokeWidth":1},
"encoding":{"x":{"datum":111.75,"type":"quantitative"},"x2":{"datum":116.35},"y":{"field":"p","type":"quantitative"},"y2":{"field":"p"},"fill":{"field":"bx","type":"nominal"}}},
{"data":{"name":"tags"},"mark":{"type":"text","align":"left","baseline":"middle","fontSize":11},
"encoding":{"x":{"datum":112.05,"type":"quantitative"},"y":{"field":"p","type":"quantitative"},"text":{"field":"lab"},"fill":{"field":"tc","type":"nominal"}}}
]},
{"width":1148,"height":66,
"view":{"fill":{"gradient":"linear","x1":0,"y1":0,"x2":0,"y2":1,"stops":[{"offset":0,"color":"#e2e9f9"},{"offset":1,"color":"#d9e2f6"}]},"stroke":"#7d8fab"},
"layer":[
{"data":{"name":"macd"},"mark":{"type":"area","interpolate":"monotone","opacity":1},
"encoding":{"x":{"field":"i","type":"quantitative","scale":{"domain":[-0.683,111.32],"nice":false,"zero":false},"axis":null},
"y":{"field":"m","type":"quantitative","scale":{"domain":[-4.1,12.0],"nice":false,"zero":false},
"axis":{"orient":"right","title":null,"values":[10],"tickSize":4,"labelPadding":3}},
"y2":{"field":"s"},
"fill":{"field":"d","type":"nominal","scale":{"domain":["up","down","aup","adn","box","mg","mb","mr"],"range":["#3fd43f","#e86c6c","#a6e8aa","#e0a2a6","#e4e9f2","#3aaa3a","#1a1ae6","#e05050"]}},
"detail":{"field":"g"}}},
{"data":{"name":"hist"},"mark":{"type":"bar","width":8,"stroke":"#5a5a5a","strokeWidth":0.6},
"encoding":{"x":{"field":"i","type":"quantitative","scale":{"domain":[-0.683,111.32],"nice":false,"zero":false},"axis":null},
"y":{"field":"h","type":"quantitative","scale":{"domain":[-4.1,12.0],"nice":false,"zero":false}},"y2":{"datum":0},"fill":{"field":"d","type":"nominal"}}},
{"data":{"name":"zero"},"mark":{"type":"rule","color":"#2233cc","strokeWidth":1.5},
"encoding":{"y":{"field":"z","type":"quantitative","scale":{"domain":[-4.1,12.0],"nice":false,"zero":false}}}},
{"data":{"name":"macd"},"mark":{"type":"line","interpolate":"monotone","color":"#e06060","strokeWidth":1.3},
"encoding":{"x":{"field":"i","type":"quantitative"},"y":{"field":"s","type":"quantitative","scale":{"domain":[-4.1,12.0],"nice":false,"zero":false}},"order":{"field":"i","type":"quantitative"}}},
{"data":{"name":"macd"},"mark":{"type":"line","interpolate":"monotone","color":"#2020d8","strokeWidth":1.5},
"encoding":{"x":{"field":"i","type":"quantitative"},"y":{"field":"m","type":"quantitative","scale":{"domain":[-4.1,12.0],"nice":false,"zero":false}},"order":{"field":"i","type":"quantitative"}}},
{"data":{"name":"mlgd"},"mark":{"type":"rect","fill":"#c9d3e0","stroke":"#8f9bb0","strokeWidth":1},
"encoding":{"x":{"field":"i0","type":"quantitative"},"x2":{"field":"i1"},"y":{"datum":11.95,"type":"quantitative"},"y2":{"datum":7.9}}},
{"data":{"name":"mlgd"},"mark":{"type":"text","align":"left","baseline":"middle","dx":1,"fontSize":10.5},
"encoding":{"x":{"field":"i0","type":"quantitative"},"y":{"datum":9.9,"type":"quantitative"},"text":{"field":"t"},"fill":{"field":"tc","type":"nominal"}}},
{"data":{"name":"mtags"},"transform":[{"filter":"datum.lab == '2,6842'"}],"mark":{"type":"rect","yOffset":-17,"y2Offset":-3,"stroke":"#8293ad","strokeWidth":1,"fill":"#e4e9f2"},
"encoding":{"x":{"datum":111.75,"type":"quantitative"},"x2":{"datum":116.35},"y":{"field":"v","type":"quantitative"},"y2":{"field":"v"}}},
{"data":{"name":"mtags"},"transform":[{"filter":"datum.lab == '2,6842'"}],"mark":{"type":"text","align":"left","baseline":"middle","fontSize":11,"yOffset":-10},
"encoding":{"x":{"datum":112.05,"type":"quantitative"},"y":{"field":"v","type":"quantitative"},"text":{"field":"lab"},"fill":{"field":"tc","type":"nominal"}}},
{"data":{"name":"mtags"},"transform":[{"filter":"datum.lab == '2,4721'"}],"mark":{"type":"rect","yOffset":-8,"y2Offset":6,"stroke":"#8293ad","strokeWidth":1,"fill":"#e4e9f2"},
"encoding":{"x":{"datum":111.75,"type":"quantitative"},"x2":{"datum":116.35},"y":{"field":"v","type":"quantitative"},"y2":{"field":"v"}}},
{"data":{"name":"mtags"},"transform":[{"filter":"datum.lab == '2,4721'"}],"mark":{"type":"text","align":"left","baseline":"middle","fontSize":11,"yOffset":-1},
"encoding":{"x":{"datum":112.05,"type":"quantitative"},"y":{"field":"v","type":"quantitative"},"text":{"field":"lab"},"fill":{"field":"tc","type":"nominal"}}},
{"data":{"name":"mtags"},"transform":[{"filter":"datum.lab == '-0,1322'"}],"mark":{"type":"rect","yOffset":-5,"y2Offset":9,"stroke":"#8293ad","strokeWidth":1,"fill":"#e4e9f2"},
"encoding":{"x":{"datum":111.75,"type":"quantitative"},"x2":{"datum":116.35},"y":{"field":"v","type":"quantitative"},"y2":{"field":"v"}}},
{"data":{"name":"mtags"},"transform":[{"filter":"datum.lab == '-0,1322'"}],"mark":{"type":"text","align":"left","baseline":"middle","fontSize":11,"yOffset":2},
"encoding":{"x":{"datum":112.05,"type":"quantitative"},"y":{"field":"v","type":"quantitative"},"text":{"field":"lab"},"fill":{"field":"tc","type":"nominal"}}}
]},
{"width":1148,"height":67,
"view":{"fill":{"gradient":"linear","x1":0,"y1":0,"x2":0,"y2":1,"stops":[{"offset":0,"color":"#e2e9f9"},{"offset":1,"color":"#d9e2f6"}]},"stroke":"#7d8fab"},
"layer":[
{"data":{"name":"rsilv"},"mark":{"type":"rule","color":"#2525b5","strokeWidth":1.5},
"encoding":{"y":{"field":"v","type":"quantitative","scale":{"domain":[27,100],"nice":false,"zero":false},
"axis":{"orient":"right","title":null,"values":[50,100],"tickSize":4,"labelPadding":3,
"labelBaseline":{"condition":{"test":"datum.value == 100","value":"top"},"value":"middle"},
"labelFontSize":{"condition":{"test":"datum.value == 100","value":13},"value":11},
"labelFontWeight":{"condition":{"test":"datum.value == 100","value":"bold"},"value":"normal"}}}}},
{"data":{"name":"rsi"},"mark":{"type":"line","color":"#000000","strokeWidth":1,"point":{"shape":"square","filled":true,"fill":"#ffffff","stroke":"#000000","strokeWidth":1,"size":24}},
"encoding":{"x":{"field":"i","type":"quantitative","scale":{"domain":[-0.683,111.32],"nice":false,"zero":false},
"axis":{"orient":"bottom","title":null,"values":[2.1,6.2,12,16.15,20.1,26,33,41.05,47,53.55,59.9,67,70.95,76.9,81,84.95,89.05,92.8,99.5,104,108.9],
"labelExpr":"['12:12','12:13','12:15','12:16','12:18','12:20','12:21','12:22','12:23','12:24','12:25','12:26','12:27','12:28','12:29','12:30','12:31','12:32','12:34','12:35','12:36'][indexof([2.1,6.2,12,16.15,20.1,26,33,41.05,47,53.55,59.9,67,70.95,76.9,81,84.95,89.05,92.8,99.5,104,108.9], datum.value)]",
"domain":false,"offset":17,"tickSize":6,"labelPadding":1,"labelOverlap":false,"labelFlush":false}},
"y":{"field":"r","type":"quantitative","scale":{"domain":[27,100],"nice":false,"zero":false}}}},
{"data":{"name":"rlgd"},"mark":{"type":"rect","fill":"#c9d3e0","stroke":"#8f9bb0","strokeWidth":1},
"encoding":{"x":{"field":"i0","type":"quantitative"},"x2":{"field":"i1"},"y":{"datum":96.7,"type":"quantitative"},"y2":{"datum":79.3}}},
{"data":{"name":"rlgd"},"mark":{"type":"text","align":"left","baseline":"middle","dx":2,"fontSize":10.5,"fill":"#000000"},
"encoding":{"x":{"field":"i0","type":"quantitative"},"y":{"datum":88,"type":"quantitative"},"text":{"field":"t"}}},
{"data":{"name":"rtag"},"mark":{"type":"rect","yOffset":-7,"y2Offset":7,"stroke":"#8293ad","strokeWidth":1,"fill":"#e4e9f2"},
"encoding":{"x":{"datum":111.75,"type":"quantitative"},"x2":{"datum":116.35},"y":{"field":"v","type":"quantitative"},"y2":{"field":"v"}}},
{"data":{"name":"rtag"},"mark":{"type":"text","align":"left","baseline":"middle","fontSize":11,"fill":"#000000"},
"encoding":{"x":{"datum":112.05,"type":"quantitative"},"y":{"field":"v","type":"quantitative"},"text":{"field":"lab"}}}
]}
],
"resolve":{"scale":{"fill":"independent","stroke":"independent","strokeWidth":"independent","shape":"independent","x":"independent","y":"independent"}}
}
